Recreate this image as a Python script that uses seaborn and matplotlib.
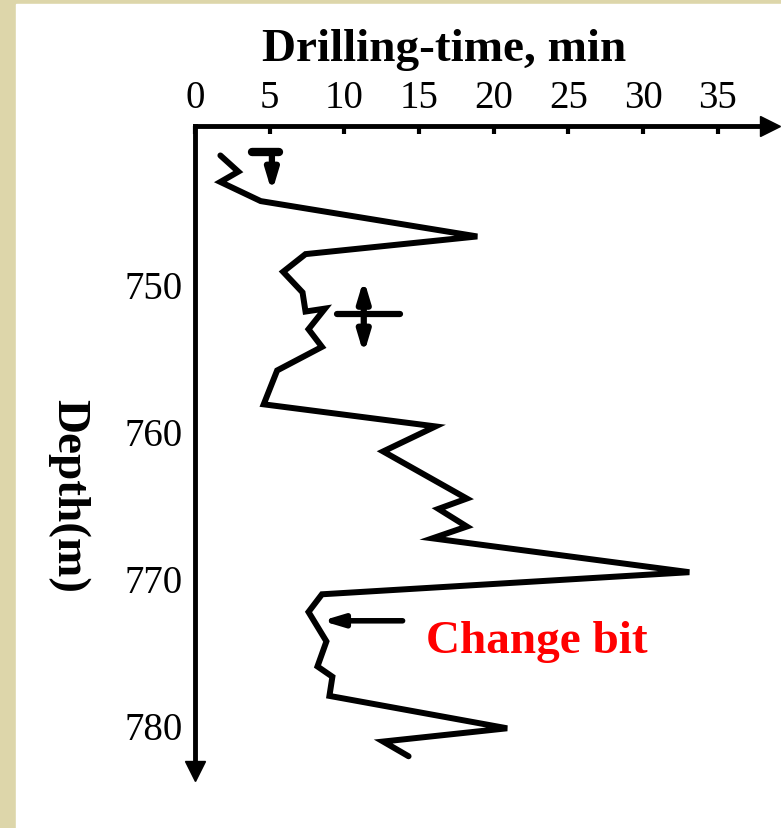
import matplotlib
matplotlib.use('Agg')
import matplotlib.pyplot as plt
import seaborn as sns
import pandas as pd
from matplotlib.patches import Rectangle

# readings from the drilling-time log (depth in m, time in min)
depth_m = [741.3, 742.4, 743.1, 744.4, 746.8, 748.0, 749.2, 750.6, 751.9, 751.7,
           753.1, 754.3, 755.9, 758.2, 759.7, 761.4, 764.6, 765.3, 766.5, 767.3,
           769.6, 771.1, 772.3, 774.3, 776.0, 776.7, 778.0, 780.2, 781.1, 782.1]
drill_time_min = [1.7, 2.9, 1.7, 4.4, 18.9, 7.4, 5.9, 7.2, 7.4, 8.7,
                  7.6, 8.5, 5.5, 4.6, 16.1, 12.6, 18.2, 16.3, 18.2, 15.9,
                  33.1, 8.5, 7.6, 8.8, 8.2, 9.2, 9.0, 20.9, 12.6, 14.3]

x_ticks = [0, 5, 10, 15, 20, 25, 30, 35]
y_ticks = [750, 760, 770, 780]

# symbols drawn on the log: (x, depth) pairs
t_bar_x = [3.8, 5.6]
t_bar_depth = 741.05
t_arrow = (5.15, 741.05, 743.8)
plus_bar_x = [9.5, 13.7]
plus_bar_depth = 752.1
plus_arrow = (11.3, 749.7, 754.8)
bit_arrow = (13.9, 8.5, 772.9)
bit_label = (15.5, 775.0, 'Change bit')

sns.set_style('white')
plt.rcParams['font.family'] = ['Liberation Serif', 'DejaVu Serif']

fig = plt.figure(figsize=(7.81, 8.29), dpi=100)
fig.patch.set_facecolor('#DDD6AA')
fig.patches.append(Rectangle((16 / 781, 0), 1 - 16 / 781, 1 - 5 / 829,
                             transform=fig.transFigure, color='white', zorder=-10))

ax = fig.add_axes([195 / 781, 1 - 772 / 829, (770 - 195) / 781, (772 - 127) / 829])
ax.set_facecolor('none')

dados = pd.DataFrame({'tempo': drill_time_min, 'prof': depth_m})
sns.lineplot(data=dados, x='tempo', y='prof', sort=False, estimator=None,
             color='black', lw=4.3, ax=ax, solid_joinstyle='miter')

ax.set_xlim(0, 38.5)
ax.set_ylim(783.1, 739.3)

# axes as arrows
for s in ['right', 'bottom']:
    ax.spines[s].set_visible(False)
for s in ['top', 'left']:
    ax.spines[s].set_linewidth(3.5)
    ax.spines[s].set_color('black')
ax.plot(1, 1, '>', color='black', ms=15, transform=ax.transAxes, clip_on=False)
ax.plot(0, 0, 'v', color='black', ms=15, transform=ax.transAxes, clip_on=False)

ax.xaxis.tick_top()
ax.set_xticks(x_ticks)
ax.set_yticks(y_ticks)
ax.tick_params(axis='both', direction='in', length=6, width=3, color='black',
               labelsize=28, labelcolor='black')
ax.tick_params(axis='x', pad=7)
ax.tick_params(axis='y', pad=9)

ax.xaxis.set_label_position('top')
ax.set_xlabel('Drilling-time, min', fontsize=34, fontweight='bold', labelpad=14,
              color='black', x=(444 - 195) / 575)
ax.set_ylabel('Depth(m)', fontsize=34, fontweight='bold', rotation=-90,
              va='center', ha='center', color='black')
ax.yaxis.set_label_coords((68 - 195) / 575, 1 - (496 - 127) / 645)

head = dict(color='black', shrinkA=0, shrinkB=0, mutation_scale=20)

# T symbol with down arrow
ax.plot(t_bar_x, [t_bar_depth, t_bar_depth], color='black', lw=6, solid_capstyle='round')
ax.annotate('', xy=(t_arrow[0], t_arrow[2]), xytext=(t_arrow[0], t_arrow[1]),
            arrowprops=dict(arrowstyle='-|>,head_length=0.6,head_width=0.18', lw=4.5, **head))

# cross with double arrow
ax.plot(plus_bar_x, [plus_bar_depth, plus_bar_depth], color='black', lw=4.5)
ax.annotate('', xy=(plus_arrow[0], plus_arrow[2]), xytext=(plus_arrow[0], plus_arrow[1]),
            arrowprops=dict(arrowstyle='<|-|>,head_length=0.6,head_width=0.18', lw=4.5, **head))

# change bit arrow + label
ax.annotate('', xy=(bit_arrow[1], bit_arrow[2]), xytext=(bit_arrow[0], bit_arrow[2]),
            arrowprops=dict(arrowstyle='-|>,head_length=0.6,head_width=0.18', lw=4, **head))
ax.text(bit_label[0], bit_label[1], bit_label[2], color='red', fontsize=34,
        fontweight='bold', va='baseline', ha='left')

fig.savefig('out.png', dpi=100, facecolor=fig.get_facecolor())
